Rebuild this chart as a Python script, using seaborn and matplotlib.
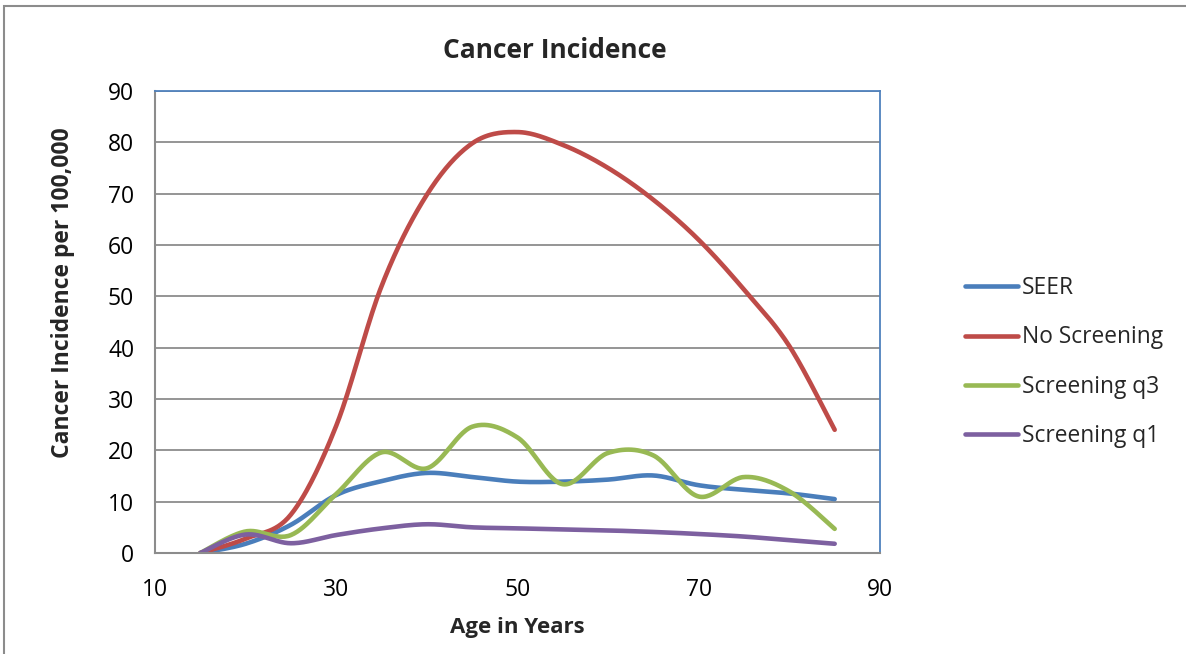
import numpy as np
import pandas as pd
import seaborn as sns
import matplotlib.pyplot as plt
from matplotlib.patches import Rectangle

# valores (idade em anos, incidência por 100.000)
idades = [15, 20, 25, 30, 35, 40, 45, 50, 55, 60, 65, 70, 75, 80, 85]
seer = [0, 1.8, 5.5, 11.3, 14.0, 15.6, 14.8, 13.9, 13.9, 14.3, 15.1, 13.2, 12.3, 11.6, 10.5]
sem_rastreio = [0, 2.8, 7.5, 24.8, 52.0, 69.8, 79.8, 82.0, 79.5, 75.0, 68.8, 61.0, 51.3, 40.3, 24.0]
rastreio_q3 = [0, 4.2, 3.5, 11.5, 19.6, 16.5, 24.6, 22.5, 13.4, 19.5, 19.0, 11.0, 14.8, 12.0, 4.7]
rastreio_q1 = [0, 3.6, 1.9, 3.5, 4.8, 5.6, 5.0, 4.8, 4.6, 4.4, 4.1, 3.7, 3.2, 2.5, 1.8]

series = ["SEER", "No Screening", "Screening q3", "Screening q1"]
valores = [seer, sem_rastreio, rastreio_q3, rastreio_q1]
cores = ["#4A7EBB", "#BE4B48", "#98B954", "#7D60A0"]


# linha suavizada estilo Excel (Catmull-Rom)
def suavizar(x, y, n=30):
    p = np.column_stack([x, y]).astype(float)
    p = np.vstack([p[0], p, p[-1]])
    pts = []
    t = np.linspace(0, 1, n)[:, None]
    for i in range(1, len(p) - 2):
        p0, p1, p2, p3 = p[i - 1], p[i], p[i + 1], p[i + 2]
        c1 = p1 + (p2 - p0) / 6
        c2 = p2 - (p3 - p1) / 6
        seg = ((1 - t) ** 3) * p1 + 3 * ((1 - t) ** 2) * t * c1 + 3 * (1 - t) * t ** 2 * c2 + t ** 3 * p2
        pts.append(seg if i == 1 else seg[1:])
    pts = np.vstack(pts)
    return pts[:, 0], pts[:, 1]


sns.set_style("white")
plt.rcParams["font.family"] = ["Open Sans", "DejaVu Sans"]

fig = plt.figure(figsize=(11.86, 6.54), dpi=100)
fig.patches.append(Rectangle((4 / 1186, -0.1), 1.2, 1 - 6 / 654 + 0.1, transform=fig.transFigure,
                             fill=False, edgecolor="#8C8C8C", linewidth=1.5))
ax = fig.add_axes([155 / 1186, 101 / 654, 725 / 1186, 462 / 654])

for nome, vals, cor in zip(series, valores, cores):
    xs, ys = suavizar(idades, vals)
    sns.lineplot(x=xs, y=ys, color=cor, linewidth=3.3, label=nome, sort=False, ax=ax,
                 solid_capstyle="round")

ax.set_xlim(10, 90)
ax.set_ylim(0, 90)
ax.set_xticks([10, 30, 50, 70, 90])
ax.set_yticks(range(0, 91, 10))
ax.yaxis.grid(True, color="#8C8C8C", linewidth=1.3)
ax.set_axisbelow(True)
for lado in ["top", "right"]:
    ax.spines[lado].set_color("#4F81BD")
    ax.spines[lado].set_linewidth(1.3)
for lado in ["left", "bottom"]:
    ax.spines[lado].set_color("#8C8C8C")
    ax.spines[lado].set_linewidth(1.5)
ax.tick_params(axis="both", direction="out", length=6, width=1.3, color="#8C8C8C",
               labelsize=16.5, labelcolor="black")
ax.tick_params(axis="y", pad=9)
ax.tick_params(axis="x", pad=12)

ax.set_xlabel("")
ax.set_ylabel("")
fig.text(555 / 1186, 1 - 50 / 654, "Cancer Incidence", ha="center", va="center",
         fontsize=19, fontweight="bold")
fig.text(517 / 1186, 1 - 628 / 654, "Age in Years", ha="center", va="center",
         fontsize=16, fontweight="bold")
fig.text(63 / 1186, 1 - 293 / 654, "Cancer Incidence per 100,000", ha="center", va="center",
         rotation=90, fontsize=16.5, fontweight="bold")

ax.get_legend().remove()
handles, labels = ax.get_legend_handles_labels()
fig.legend(handles, labels, loc="center left", bbox_to_anchor=(965 / 1186, 1 - 362 / 654),
           frameon=False, fontsize=16.4, handlelength=2.32, handletextpad=0.18, labelspacing=1.1,
           borderpad=0, borderaxespad=0)

fig.savefig("out.png", dpi=100)
